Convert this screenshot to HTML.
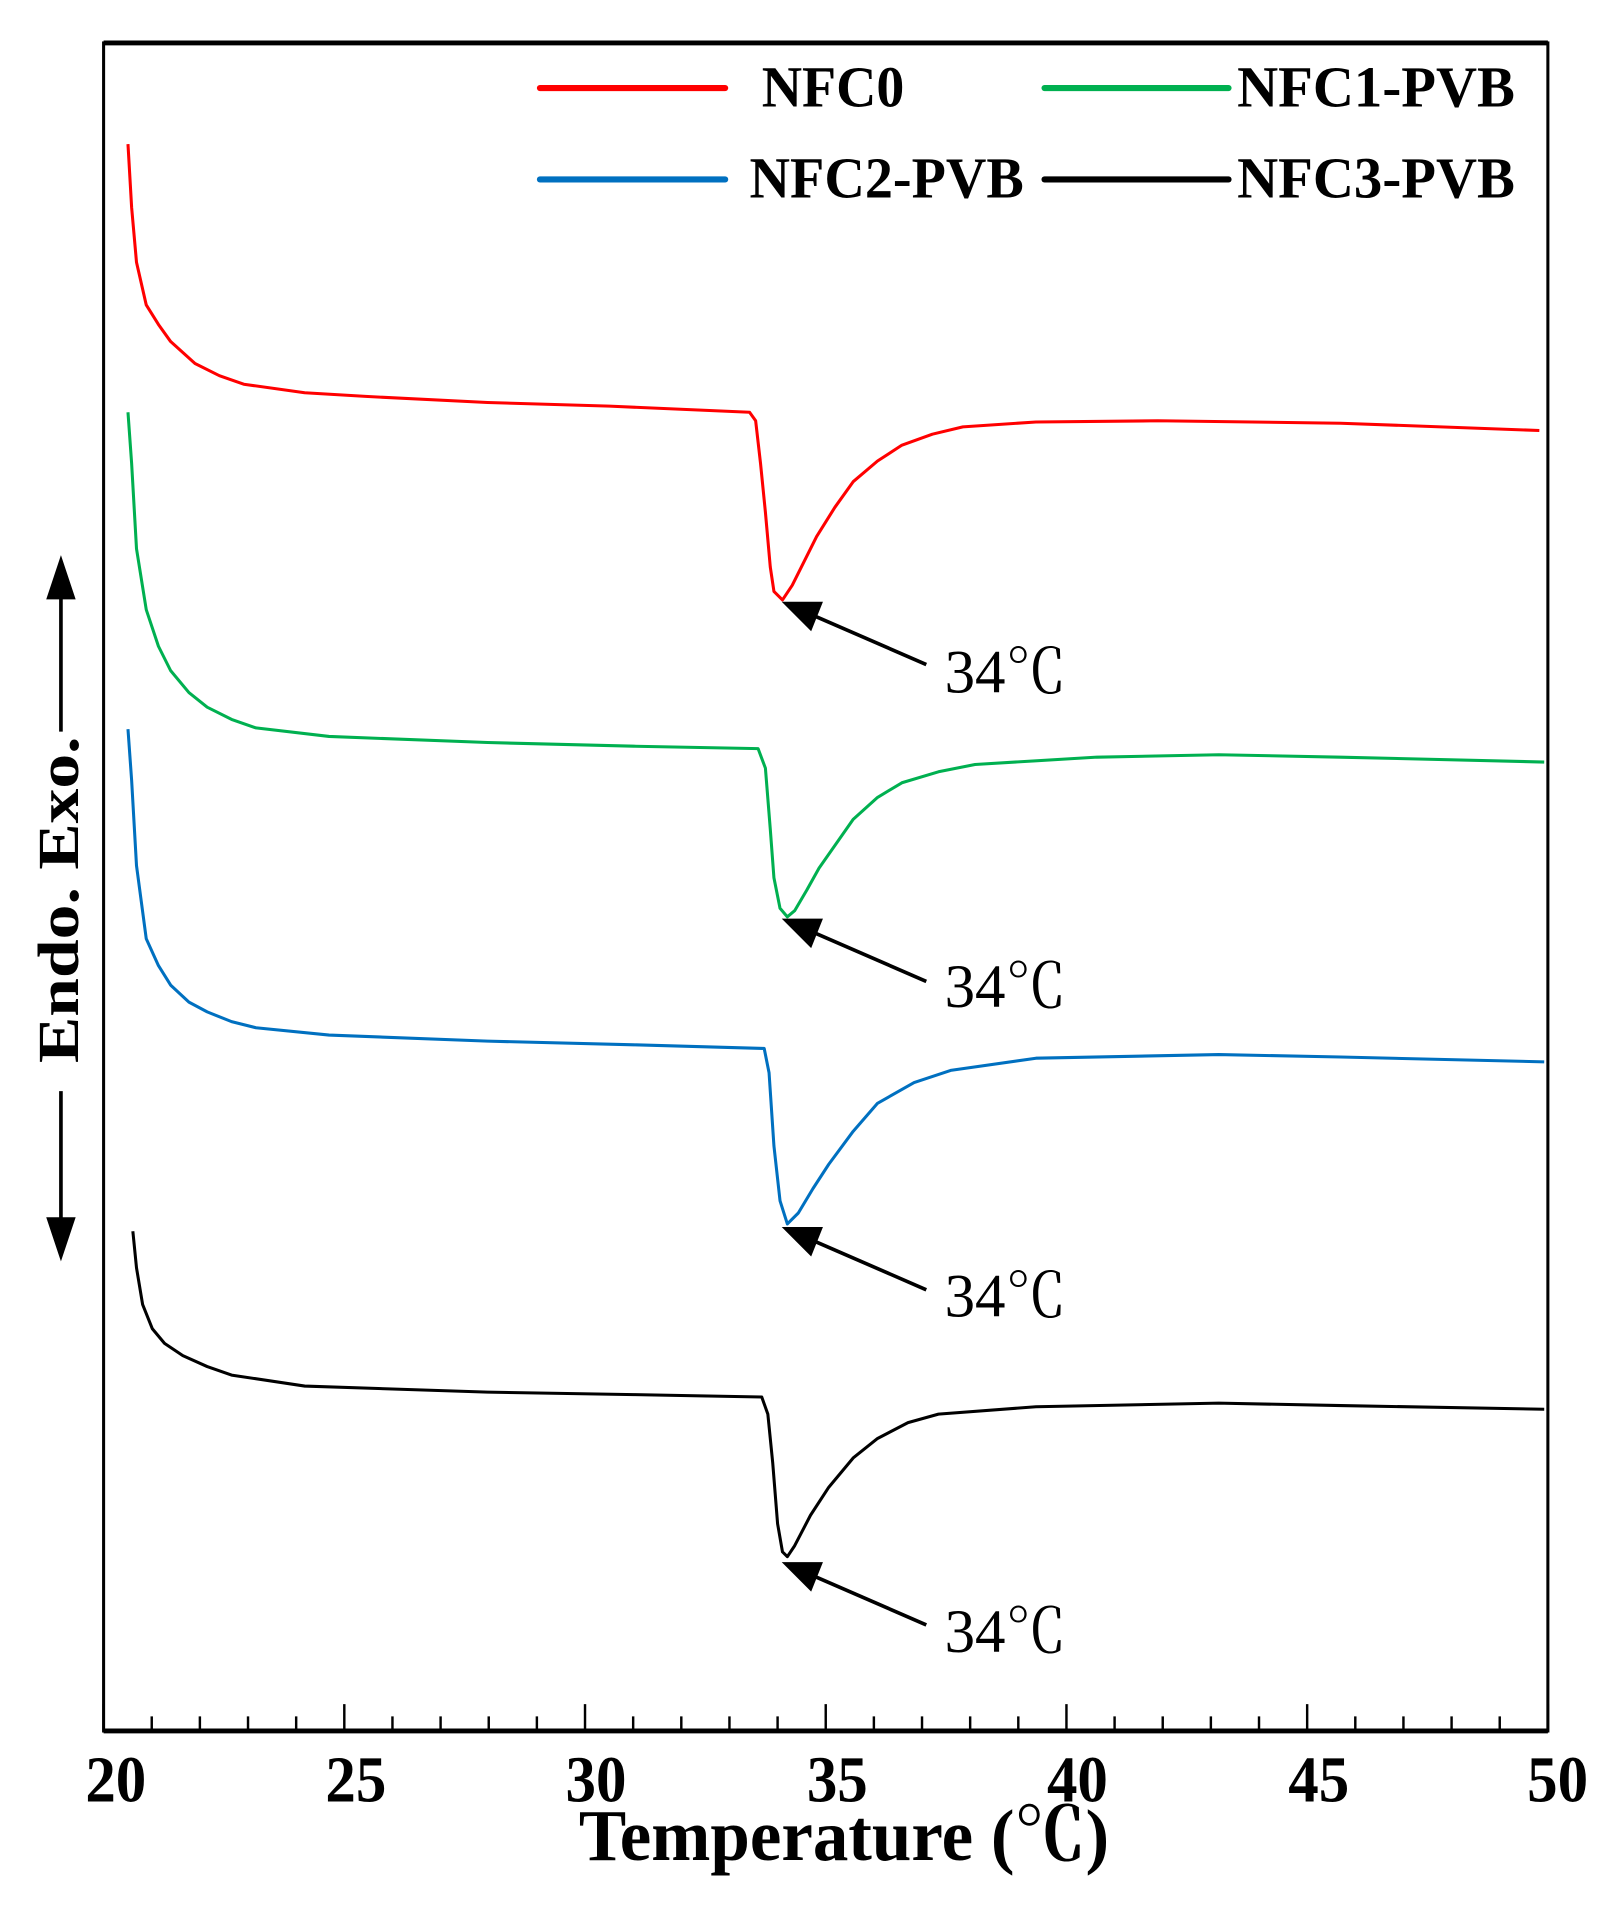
<!DOCTYPE html>
<html><head><meta charset="utf-8"><style>html,body{margin:0;padding:0;background:#fff}svg{display:block}</style></head>
<body>
<svg width="1621" height="1908" viewBox="0 0 1330 1565" xmlns="http://www.w3.org/2000/svg" font-family="'Liberation Serif','Noto Serif CJK SC',serif" font-weight="bold">
<rect x="85" y="35" width="1185" height="1385" fill="none" stroke="#000" stroke-width="2.5"/>
<line x1="85" y1="35" x2="1270" y2="35" stroke="#000" stroke-width="4"/>
<line x1="85" y1="1420" x2="1270" y2="1420" stroke="#000" stroke-width="4"/>
<g stroke="#000" stroke-width="2">
<path d="M85,1420v-22M282.5,1420v-22M480,1420v-22M677.5,1420v-22M875,1420v-22M1072.5,1420v-22M1270,1420v-22
M124.5,1420v-12M164,1420v-12M203.5,1420v-12M243,1420v-12M322,1420v-12M361.5,1420v-12M401,1420v-12M440.5,1420v-12M519.5,1420v-12M559,1420v-12M598.5,1420v-12M638,1420v-12M717,1420v-12M756.5,1420v-12M796,1420v-12M835.5,1420v-12M914.5,1420v-12M954,1420v-12M993.5,1420v-12M1033,1420v-12M1112,1420v-12M1151.5,1420v-12M1191,1420v-12M1230.5,1420v-12"/>
</g>
<g font-size="54" text-anchor="middle">
<text x="95" y="1478" textLength="50" lengthAdjust="spacingAndGlyphs">20</text><text x="292" y="1478" textLength="50" lengthAdjust="spacingAndGlyphs">25</text><text x="489" y="1478" textLength="50" lengthAdjust="spacingAndGlyphs">30</text><text x="687" y="1478" textLength="50" lengthAdjust="spacingAndGlyphs">35</text><text x="884" y="1478" textLength="50" lengthAdjust="spacingAndGlyphs">40</text><text x="1082" y="1478" textLength="50" lengthAdjust="spacingAndGlyphs">45</text><text x="1278" y="1478" textLength="50" lengthAdjust="spacingAndGlyphs">50</text>
</g>
<text x="475" y="1526" font-size="60" textLength="435" lengthAdjust="spacingAndGlyphs">Temperature (℃)</text>
<g stroke-width="5" stroke-linecap="round">
<line x1="443" y1="72" x2="595" y2="72" stroke="#f00"/>
<line x1="857" y1="72" x2="1008" y2="72" stroke="#00b050"/>
<line x1="443" y1="147" x2="595" y2="147" stroke="#0070c0"/>
<line x1="857" y1="147" x2="1008" y2="147" stroke="#000"/>
</g>
<g font-size="48">
<text x="625" y="87" textLength="117" lengthAdjust="spacingAndGlyphs">NFC0</text>
<text x="1015" y="87" textLength="228" lengthAdjust="spacingAndGlyphs">NFC1-PVB</text>
<text x="615" y="162" textLength="225" lengthAdjust="spacingAndGlyphs">NFC2-PVB</text>
<text x="1015" y="162" textLength="228" lengthAdjust="spacingAndGlyphs">NFC3-PVB</text>
</g>
<g stroke="#000" stroke-width="3" fill="#000">
<line x1="50" y1="600" x2="50" y2="480"/><path d="M50,460 L40,490 L60,490 Z"/>
<line x1="50" y1="895" x2="50" y2="1010"/><path d="M50,1030 L40,1000 L60,1000 Z"/>
</g>
<text transform="translate(64,872) rotate(-90)" font-size="48" textLength="268" lengthAdjust="spacingAndGlyphs">Endo.   Exo.</text>
<g fill="none" stroke-width="2.5" stroke-linejoin="round">
<polyline stroke="#f00" points="105,118 108,170 112,215 120,250 130,266 140,280 160,298 180,308 200,315 250,322 300,325 400,330 500,333 615,338 620,345 624,380 628,420 632,465 635,485 642,492 650,480 660,460 670,440 685,416 700,395 720,378 740,365 765,356 790,350 850,346 950,345 1100,347 1263,353"/>
<polyline stroke="#00b050" points="105,338 108,380 112,450 120,500 130,530 140,550 155,568 170,580 190,590 210,597 270,604 400,609 520,612 622,614 628,630 632,680 635,720 640,745 646,752 652,747 662,730 672,712 686,692 700,672 720,654 740,642 770,633 800,627 900,621 1000,619 1100,621 1267,625"/>
<polyline stroke="#0070c0" points="105,598 108,640 112,710 120,770 130,792 140,808 155,822 170,830 190,838 210,843 270,849 400,854 520,857 627,860 631,880 635,940 640,985 646,1004 655,995 667,975 680,955 700,928 720,905 750,888 780,878 850,868 1000,865 1100,867 1267,871"/>
<polyline stroke="#000" points="109,1010 112,1040 117,1070 125,1090 135,1102 150,1112 170,1121 190,1128 250,1137 400,1142 520,1144 625,1146 630,1160 634,1200 638,1250 642,1273 646,1277 652,1268 665,1243 680,1220 700,1196 720,1180 745,1167 770,1160 850,1154 1000,1151 1100,1153 1267,1156"/>
</g>
<g stroke="#000" stroke-width="3" fill="#000">
<line x1="760" y1="545" x2="668" y2="505"/><path d="M645,495 L673,495 L665,515 Z"/>
<line x1="760" y1="805" x2="668" y2="765"/><path d="M645,755 L673,755 L665,775 Z"/>
<line x1="760" y1="1058" x2="668" y2="1018"/><path d="M645,1008 L673,1008 L665,1028 Z"/>
<line x1="760" y1="1333" x2="668" y2="1293"/><path d="M645,1283 L673,1283 L665,1303 Z"/>
</g>
<g font-size="50" font-weight="normal">
<text x="775" y="568" textLength="100" lengthAdjust="spacingAndGlyphs">34℃</text>
<text x="775" y="826" textLength="100" lengthAdjust="spacingAndGlyphs">34℃</text>
<text x="775" y="1080" textLength="100" lengthAdjust="spacingAndGlyphs">34℃</text>
<text x="775" y="1355" textLength="100" lengthAdjust="spacingAndGlyphs">34℃</text>
</g>
</svg>
</body></html>
